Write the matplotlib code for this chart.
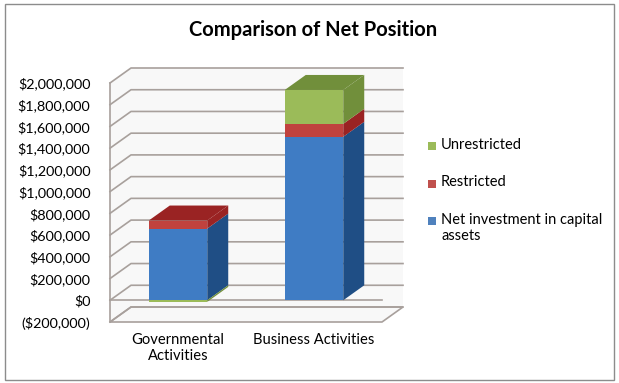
import matplotlib.pyplot as plt
import numpy as np
from matplotlib.patches import Polygon, Rectangle

# data
categories = ['Governmental\nActivities', 'Business Activities']
series = ['Net investment in capital\nassets', 'Restricted', 'Unrestricted']
net_invest = [660000, 1505000]
restricted = [74000, 119000]
unrestricted = [-15000, 312000]
yticks = np.arange(-200000, 2000001, 200000)

front_cols = ['#3f7cc4', '#c0423e', '#9bbb59']
dark_cols = ['#1f4e85', '#9a2323', '#718f3b']
legend_cols = ['#4f81bd', '#c0504d', '#9bbb59']
grid_c = '#a8a09c'

plt.rcParams['font.family'] = ['Lato', 'DejaVu Sans']

W, H = 619, 383
fig = plt.figure(figsize=(W/100, H/100), dpi=100)
ax = fig.add_axes([110/W, 1-322/H, (382-110)/W, (322-83)/H])
x0, x1 = -0.5, 1.5
ymin, ymax = -200000, 2000000
ax.set_xlim(x0, x1)
ax.set_ylim(ymin, ymax)
for s in ax.spines.values():
    s.set_visible(False)
ax.patch.set_visible(False)

# depth of the 3d look, in pixels -> data units
dpx, dpy = 21, 15
ddx = dpx*(x1-x0)/(382-110)
ddy = dpy*(ymax-ymin)/(322-83)

# walls and floor
wall = '#f8f8f8'
ax.add_patch(Polygon([(x0+ddx, ymin+ddy), (x1+ddx, ymin+ddy), (x1+ddx, ymax+ddy), (x0+ddx, ymax+ddy)],
                     closed=True, fc=wall, ec='none', zorder=0, clip_on=False))
ax.add_patch(Polygon([(x0, ymin), (x0, ymax), (x0+ddx, ymax+ddy), (x0+ddx, ymin+ddy)],
                     closed=True, fc=wall, ec='none', zorder=0, clip_on=False))
ax.add_patch(Polygon([(x0, ymin), (x1, ymin), (x1+ddx, ymin+ddy), (x0+ddx, ymin+ddy)],
                     closed=True, fc=wall, ec=grid_c, lw=1.2, zorder=1, clip_on=False))
for v in yticks:
    ax.plot([x0, x0+ddx, x1+ddx], [v, v+ddy, v+ddy], color=grid_c, lw=1.2, zorder=1, clip_on=False)
ax.plot([x0, x0], [ymin, ymax], color=grid_c, lw=1.2, zorder=1, clip_on=False)
ax.plot([x0, x1], [0, 0], color=grid_c, lw=1.2, zorder=1, clip_on=False)

# bars
bw = 0.43
xs = np.arange(len(categories))
stack = [net_invest, restricted, unrestricted]
for i, xc in enumerate(xs):
    pos = 0
    neg = 0
    top = None
    for k, vals in enumerate(stack):
        v = vals[i]
        if v >= 0:
            b, t = pos, pos+v
            pos = t
        else:
            b, t = neg+v, neg
            neg = b
        ax.bar(xc, t-b, bottom=b, width=bw, color=front_cols[k], zorder=3, linewidth=0)
        xr = xc+bw/2
        ax.add_patch(Polygon([(xr, b), (xr, t), (xr+ddx, t+ddy), (xr+ddx, b+ddy)],
                             closed=True, fc=dark_cols[k], ec='none', zorder=3, clip_on=False))
        if v > 0:
            top = (t, k)
    t, k = top
    xl = xc-bw/2
    ax.add_patch(Polygon([(xl, t), (xl+bw, t), (xl+bw+ddx, t+ddy), (xl+ddx, t+ddy)],
                         closed=True, fc=dark_cols[k], ec='none', zorder=4, clip_on=False))

def money(v):
    s = '${:,.0f}'.format(abs(v))
    return '(' + s + ')' if v < 0 else s

ax.set_yticks(yticks)
ax.set_yticklabels([money(v) for v in yticks], fontsize=10.4)
ax.set_xticks(xs)
ax.set_xticklabels(categories, fontsize=10.6, linespacing=1.2)
ax.tick_params(axis='y', length=0, pad=14)
ax.tick_params(axis='x', length=0, pad=8)

fig.text(313/W, 1-30/H, 'Comparison of Net Position', ha='center', va='center',
         fontsize=14.5, fontweight='bold')

# legend
for j, k in enumerate([2, 1, 0]):
    yy = 1-(146+37.5*j)/H
    fig.patches.append(Rectangle((428/W, yy-4/H), 8/W, 8/H, transform=fig.transFigure,
                                 fc=legend_cols[k], ec='none'))
    fig.text(441/W, yy+8/H, series[k], ha='left', va='top', fontsize=10.5, linespacing=1.2)

# outer border
fig.patches.append(Rectangle((5/W, 3/H), 609/W, 376/H, transform=fig.transFigure,
                             fill=False, ec='#8c8c8c', lw=1))

plt.savefig('out.png', dpi=100)
